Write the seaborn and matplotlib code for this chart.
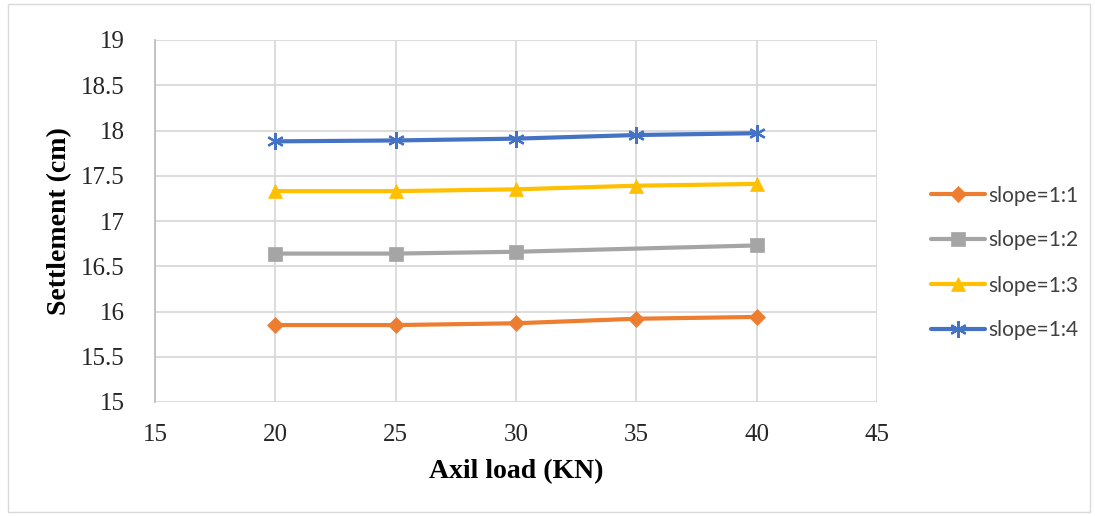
import matplotlib
matplotlib.use("Agg")
import matplotlib.pyplot as plt
import seaborn as sns
import pandas as pd
from matplotlib.patches import Rectangle

sns.set_theme(style="white")

loads = [20, 25, 30, 35, 40]
s11 = [15.85, 15.85, 15.87, 15.92, 15.94]
loads_12 = [20, 25, 30, 40]
s12 = [16.64, 16.64, 16.66, 16.73]
s13 = [17.33, 17.33, 17.35, 17.39, 17.41]
s14 = [17.88, 17.89, 17.91, 17.95, 17.97]
labels = ["slope=1:1", "slope=1:2", "slope=1:3", "slope=1:4"]
colors = ["#ED7D31", "#A5A5A5", "#FFC000", "#4472C4"]
markers = ["D", "s", "^", (6, 2, 0)]
msizes = [8, 10, 10, 12]

series = [(loads, s11), (loads_12, s12), (loads, s13), (loads, s14)]
frames = []
for lab, (xs, ys) in zip(labels, series):
    frames.append(pd.DataFrame({"load": xs, "settle": ys, "slope": lab}))
df = pd.concat(frames, ignore_index=True)

fig = plt.figure(figsize=(10.95, 5.16), dpi=100)
ax = fig.add_axes([155/1095, 1-402/516, (877-155)/1095, (402-40)/516])

for lab, col, mk, ms in zip(labels, colors, markers, msizes):
    d = df[df["slope"] == lab]
    sns.lineplot(data=d, x="load", y="settle", ax=ax, color=col, marker=mk,
                 markersize=ms, linewidth=3, label=lab,
                 markeredgecolor=col, markeredgewidth=1.6 if lab == labels[3] else 0.5,
                 sort=True, estimator=None)

ax.set_xlim(15, 45)
ax.set_ylim(15, 19)
ax.set_xticks([15, 20, 25, 30, 35, 40, 45])
ax.set_yticks([15, 15.5, 16, 16.5, 17, 17.5, 18, 18.5, 19])
ax.set_yticklabels(["15", "15.5", "16", "16.5", "17", "17.5", "18", "18.5", "19"])
ax.grid(True, color="#d9d9d9", linewidth=1.3)
for side in ["top", "right", "bottom"]:
    ax.spines[side].set_visible(False)
ax.spines["left"].set_color("#bfbfbf")
ax.spines["left"].set_linewidth(1.3)
ax.tick_params(axis="y", length=0, pad=22, labelsize=18, labelcolor="#262626")
ax.tick_params(axis="x", length=0, pad=16, labelsize=18, labelcolor="#262626")
for t in ax.get_xticklabels() + ax.get_yticklabels():
    t.set_family("Liberation Serif")
ax.set_xlabel("Axil load (KN)", family="Liberation Serif", fontsize=20,
              fontweight="bold", color="black", labelpad=9)
ax.set_ylabel("Settlement (cm)", family="Liberation Serif", fontsize=20,
              fontweight="bold", color="black", labelpad=6)

leg = ax.legend(loc="center left", bbox_to_anchor=(912/1095, 1-263/516), bbox_transform=fig.transFigure,
                frameon=False, handlelength=2.6, labelspacing=1.2,
                handletextpad=0.15, prop={"family": "Lato", "size": 15})
for t in leg.get_texts():
    t.set_color("#404040")

fig.patches.append(Rectangle((8/1095, 4/516), 1082/1095, 508/516, transform=fig.transFigure,
                             fill=False, edgecolor="#d9d9d9", linewidth=1))

fig.savefig("out.png", dpi=100)
